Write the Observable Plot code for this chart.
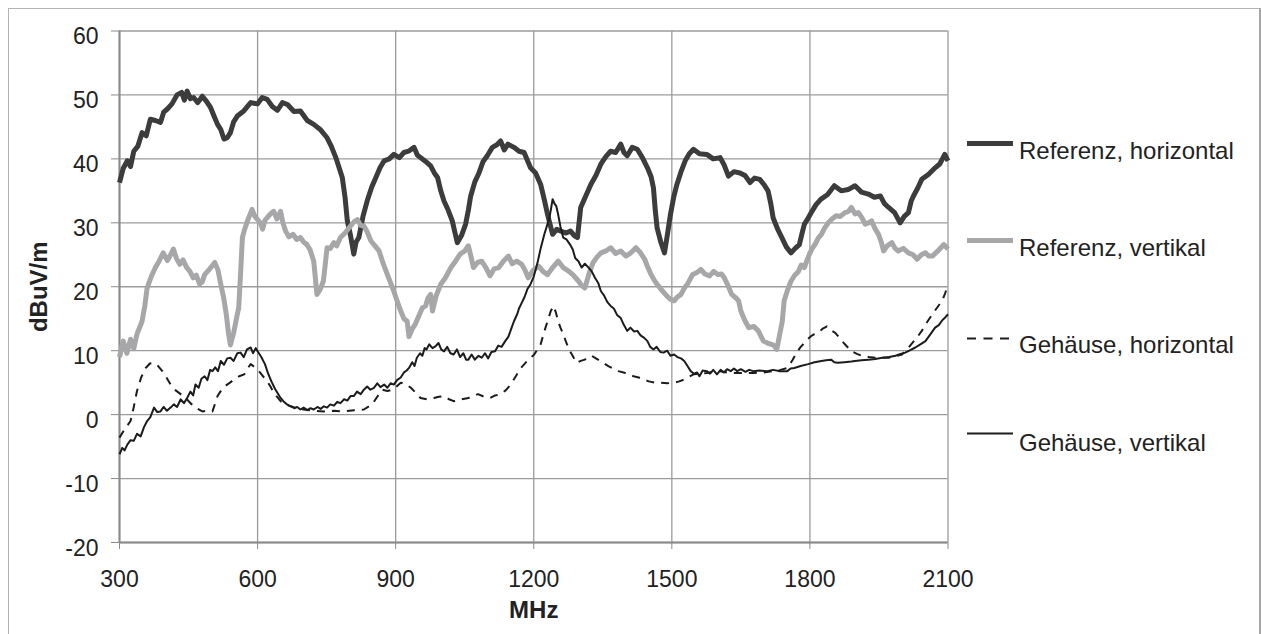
<!DOCTYPE html>
<html><head><meta charset="utf-8">
<script src="https://cdn.jsdelivr.net/npm/d3@7"></script>
<script src="https://cdn.jsdelivr.net/npm/@observablehq/plot@0.6"></script>
<style>
html,body{margin:0;padding:0;background:#fff;}
#wrap{position:relative;width:1261px;height:634px;overflow:hidden;font-family:"Liberation Sans",Arial,sans-serif;}
#frame{position:absolute;left:8px;top:8px;width:1250px;height:660px;border:1px solid #b4b4b4;border-right:2px solid #a6a6a6;pointer-events:none}
#wrap svg{position:absolute;left:0;top:0}
</style></head><body><div id="wrap"></div>
<script>
const xTicks = [300, 600, 900, 1200, 1500, 1800, 2100];
const yTicks = [-20, -10, 0, 10, 20, 30, 40, 50, 60];
const seriesNames = ["Referenz, horizontal", "Referenz, vertikal", "Gehäuse, horizontal", "Gehäuse, vertikal"];

const refHorizontal = [[300,36.3],[308,38.5],[317,39.7],[324,38.8],[331,41.2],[340,42.0],[349,44.1],[358,43.6],[367,46.2],[378,46.0],[389,45.7],[396,47.3],[404,47.8],[414,48.6],[425,50.0],[435,50.4],[441,49.2],[447,50.6],[454,49.4],[461,49.6],[470,48.8],[480,49.8],[489,49.0],[498,48.0],[506,46.6],[513,45.4],[520,44.6],[527,43.1],[534,43.3],[541,44.1],[548,45.8],[556,46.7],[570,47.5],[585,48.8],[600,48.6],[610,49.6],[621,49.3],[632,48.2],[643,47.6],[654,48.8],[665,48.5],[679,47.4],[693,47.5],[708,46.0],[722,45.4],[736,44.6],[751,43.3],[760,42.0],[770,40.2],[784,37.1],[790,34.0],[795,30.3],[802,28.0],[809,25.1],[814,27.0],[820,27.7],[829,31.0],[838,33.4],[848,35.6],[857,37.1],[866,38.6],[875,39.7],[886,40.0],[896,40.7],[908,40.2],[918,41.0],[928,41.2],[940,41.8],[947,40.6],[954,40.2],[965,39.6],[976,38.9],[984,37.8],[991,37.1],[998,35.0],[1005,33.4],[1014,32.0],[1023,30.3],[1029,28.4],[1034,26.9],[1043,28.0],[1052,29.8],[1058,32.0],[1063,34.2],[1072,36.4],[1081,37.8],[1090,39.6],[1099,40.5],[1110,41.8],[1120,42.2],[1128,42.8],[1136,41.4],[1144,42.3],[1157,41.8],[1168,41.2],[1179,41.0],[1193,38.6],[1204,37.8],[1215,36.0],[1223,33.6],[1230,31.3],[1241,28.2],[1250,29.0],[1259,28.7],[1270,28.4],[1280,28.7],[1288,28.0],[1295,27.7],[1302,32.4],[1313,34.2],[1324,36.0],[1335,37.4],[1346,39.2],[1357,40.4],[1367,41.2],[1378,41.0],[1389,42.3],[1396,41.0],[1403,40.5],[1414,41.8],[1425,41.5],[1436,40.2],[1447,38.6],[1455,37.2],[1460,35.5],[1464,32.0],[1468,29.2],[1476,27.0],[1484,25.3],[1490,28.0],[1497,31.3],[1504,34.0],[1511,36.0],[1520,38.0],[1529,39.7],[1538,40.8],[1547,41.5],[1560,40.8],[1576,40.7],[1590,40.0],[1605,40.2],[1614,39.0],[1623,37.3],[1635,38.0],[1648,37.8],[1659,37.4],[1670,36.3],[1680,37.0],[1691,36.8],[1700,36.0],[1709,35.0],[1715,33.0],[1720,30.8],[1730,29.0],[1739,27.7],[1749,26.2],[1759,25.3],[1768,26.0],[1777,26.6],[1783,28.4],[1788,29.8],[1795,30.6],[1803,31.6],[1813,32.8],[1824,33.7],[1838,34.4],[1853,35.8],[1868,35.0],[1883,35.2],[1898,35.8],[1912,34.8],[1927,34.5],[1940,34.0],[1953,34.2],[1962,33.0],[1971,32.4],[1984,31.6],[1996,30.0],[2005,31.0],[2014,31.6],[2020,33.4],[2025,34.2],[2034,35.4],[2043,36.8],[2058,37.6],[2072,38.6],[2082,39.2],[2093,40.7],[2100,39.7]];

const refVertical = [[300,9.0],[308,11.5],[316,9.6],[324,11.8],[331,10.3],[338,12.6],[349,14.6],[355,17.0],[360,19.8],[369,21.6],[378,23.0],[386,24.0],[395,25.3],[404,24.1],[411,25.0],[417,25.9],[424,24.4],[431,23.5],[438,24.2],[446,23.0],[453,22.4],[460,21.4],[467,21.8],[474,20.4],[480,20.8],[485,21.9],[496,22.8],[507,23.8],[514,22.6],[520,20.4],[526,18.4],[532,15.7],[537,12.6],[541,10.9],[548,12.8],[556,15.7],[559,16.7],[563,22.0],[567,27.7],[572,29.0],[578,30.3],[588,32.1],[594,31.0],[600,30.5],[606,30.0],[611,29.0],[616,30.4],[621,30.8],[628,31.4],[635,31.8],[642,30.6],[650,31.8],[655,30.0],[661,28.7],[668,27.8],[677,28.2],[685,27.4],[693,27.7],[700,27.0],[707,26.6],[714,25.8],[722,24.0],[726,21.0],[729,18.8],[736,19.6],[743,20.9],[751,26.1],[758,26.0],[766,26.9],[772,26.4],[780,27.7],[790,28.4],[802,29.5],[810,30.2],[817,30.5],[824,29.6],[831,29.5],[838,28.6],[846,27.2],[855,26.4],[864,25.6],[873,23.6],[882,21.9],[889,20.6],[896,19.3],[904,17.6],[911,16.2],[918,15.0],[925,14.6],[929,12.2],[936,13.4],[943,14.2],[950,15.4],[958,16.7],[965,17.0],[970,18.2],[976,18.8],[980,16.2],[988,18.6],[998,20.4],[1008,21.4],[1020,23.0],[1030,24.0],[1040,25.1],[1050,25.6],[1058,26.4],[1064,24.6],[1069,23.0],[1078,23.8],[1087,24.0],[1096,23.0],[1105,21.7],[1114,22.8],[1124,23.0],[1134,24.0],[1145,24.8],[1153,23.6],[1163,24.0],[1174,23.5],[1181,22.6],[1188,21.4],[1199,22.6],[1211,23.2],[1220,22.4],[1230,21.9],[1241,23.0],[1253,24.0],[1264,23.0],[1275,22.5],[1286,21.8],[1297,20.9],[1304,20.2],[1311,19.8],[1320,22.0],[1329,23.8],[1337,24.6],[1346,25.3],[1357,25.6],[1367,26.1],[1378,25.2],[1389,25.6],[1400,24.8],[1411,25.3],[1422,26.1],[1431,25.4],[1441,24.3],[1448,23.0],[1455,21.9],[1462,21.0],[1468,20.4],[1479,19.4],[1490,18.5],[1498,18.0],[1505,17.8],[1512,18.4],[1520,18.8],[1527,19.8],[1534,20.4],[1545,21.9],[1554,22.2],[1563,22.7],[1572,22.0],[1582,21.7],[1591,22.4],[1600,21.9],[1608,22.0],[1614,21.4],[1622,20.2],[1630,18.8],[1640,18.2],[1645,17.8],[1650,16.2],[1658,14.8],[1667,13.6],[1678,13.8],[1688,13.1],[1694,12.2],[1699,11.5],[1708,11.2],[1716,11.0],[1722,10.8],[1728,10.2],[1734,12.4],[1740,14.6],[1744,17.8],[1752,19.6],[1759,20.9],[1767,21.8],[1775,22.4],[1781,23.4],[1788,23.0],[1794,24.2],[1799,25.1],[1805,26.0],[1811,26.6],[1818,27.6],[1825,28.2],[1832,29.2],[1840,30.0],[1848,30.6],[1857,31.1],[1866,31.0],[1876,31.6],[1884,31.8],[1890,32.4],[1898,31.4],[1905,31.6],[1913,30.8],[1920,29.8],[1927,30.0],[1934,30.3],[1942,29.0],[1949,28.2],[1955,27.0],[1960,25.6],[1968,26.4],[1978,26.9],[1985,26.0],[1992,25.6],[2003,26.0],[2014,25.3],[2024,25.0],[2033,24.3],[2042,25.0],[2051,25.3],[2058,24.8],[2066,24.8],[2078,25.6],[2091,26.6],[2100,25.9]];

const gehHorizontal = [[300,-3.6],[312,-2.2],[324,-1.0],[331,1.2],[338,3.7],[347,5.8],[357,7.3],[366,8.0],[375,8.1],[384,7.6],[393,6.8],[402,5.8],[411,4.7],[422,3.8],[433,3.2],[444,2.6],[454,1.8],[467,1.0],[480,0.5],[491,0.6],[502,0.5],[508,1.8],[513,2.9],[521,3.8],[530,4.5],[540,5.0],[549,5.5],[560,6.0],[571,6.3],[578,7.2],[585,7.9],[594,7.4],[603,6.8],[612,6.0],[621,5.2],[628,4.4],[635,3.4],[642,2.8],[650,2.1],[661,1.6],[672,1.3],[686,1.0],[700,0.8],[722,0.6],[744,0.5],[766,0.6],[788,0.5],[810,0.7],[831,0.8],[840,1.2],[849,1.6],[860,2.8],[871,3.9],[882,3.7],[893,3.9],[902,4.4],[911,5.0],[922,4.8],[933,4.2],[944,3.4],[954,2.6],[968,2.4],[983,2.6],[994,2.8],[1005,2.9],[1016,2.4],[1026,2.1],[1042,2.4],[1058,2.6],[1068,2.9],[1079,3.2],[1092,2.8],[1105,2.6],[1116,3.0],[1128,3.2],[1139,3.8],[1150,4.7],[1161,6.0],[1172,7.3],[1186,8.4],[1201,9.4],[1208,10.2],[1215,11.0],[1222,12.8],[1230,14.6],[1237,16.2],[1243,17.0],[1248,16.0],[1253,14.6],[1258,13.6],[1264,12.6],[1271,11.2],[1279,9.9],[1286,9.0],[1293,8.1],[1302,8.4],[1311,8.6],[1318,9.0],[1326,9.2],[1335,8.8],[1344,8.4],[1353,8.0],[1362,7.6],[1373,7.2],[1384,6.8],[1395,6.6],[1406,6.3],[1417,6.0],[1428,5.8],[1439,5.5],[1450,5.2],[1463,5.0],[1476,5.0],[1490,4.9],[1505,5.0],[1516,5.2],[1527,5.5],[1537,5.9],[1547,6.3],[1561,6.4],[1576,6.5],[1590,6.7],[1605,6.8],[1620,6.6],[1634,6.5],[1656,6.5],[1677,6.5],[1700,6.6],[1721,6.8],[1736,7.0],[1751,7.3],[1762,8.5],[1773,9.9],[1780,10.6],[1788,11.2],[1795,11.8],[1803,12.3],[1810,12.6],[1818,12.8],[1827,13.4],[1837,13.8],[1846,13.2],[1855,12.8],[1862,12.2],[1870,11.5],[1880,10.7],[1891,9.9],[1902,9.5],[1913,9.2],[1928,9.0],[1942,8.9],[1957,8.9],[1971,8.9],[1986,9.1],[2000,9.4],[2010,10.1],[2020,11.0],[2032,12.0],[2043,13.1],[2054,14.4],[2066,15.7],[2077,16.8],[2087,17.8],[2094,19.0],[2100,20.4]];

const gehVertical = [[300,-6.2],[306,-5.2],[311,-5.6],[317,-4.7],[324,-4.0],[331,-4.1],[338,-3.0],[346,-3.4],[353,-2.0],[360,-1.0],[367,-0.4],[375,1.1],[382,0.4],[389,0.5],[396,1.2],[403,0.6],[411,1.1],[418,1.6],[425,1.2],[433,2.4],[440,1.8],[447,2.6],[454,3.6],[460,3.0],[465,4.7],[472,4.2],[478,5.6],[485,6.0],[491,5.4],[497,7.0],[502,6.8],[508,7.4],[514,6.8],[520,8.4],[527,7.8],[534,8.8],[541,8.9],[548,8.4],[556,9.6],[563,9.7],[570,9.0],[577,10.2],[585,10.5],[590,9.6],[596,10.4],[600,9.9],[608,9.0],[616,7.9],[623,6.4],[630,5.2],[638,4.0],[645,3.2],[650,2.6],[656,2.1],[664,1.6],[672,1.3],[680,1.0],[686,1.2],[693,0.8],[700,1.1],[708,0.7],[715,1.0],[722,0.8],[730,1.2],[737,0.9],[744,1.3],[751,1.1],[758,1.6],[766,1.4],[773,2.0],[780,1.8],[788,2.4],[795,2.2],[802,2.9],[809,2.9],[816,3.6],[824,3.2],[831,3.9],[838,4.4],[845,3.9],[853,4.2],[860,4.9],[867,4.3],[875,4.7],[882,4.2],[889,4.9],[896,4.7],[903,5.4],[911,5.8],[918,6.6],[924,6.9],[929,7.3],[936,8.2],[941,7.6],[946,8.9],[953,9.6],[958,9.2],[963,10.4],[967,10.2],[973,11.0],[980,10.4],[987,10.7],[993,11.2],[999,10.2],[1005,9.9],[1012,10.6],[1019,9.6],[1026,9.4],[1033,10.2],[1040,9.0],[1047,9.6],[1053,8.6],[1058,8.6],[1065,9.4],[1072,8.6],[1080,9.2],[1087,8.9],[1094,9.6],[1101,8.8],[1108,9.8],[1116,9.9],[1123,10.8],[1130,10.6],[1138,11.5],[1145,12.2],[1151,13.4],[1157,14.6],[1164,15.7],[1168,16.6],[1172,17.2],[1180,18.4],[1186,19.6],[1193,20.4],[1200,21.6],[1208,23.7],[1215,26.0],[1223,28.2],[1229,29.6],[1234,30.8],[1238,32.4],[1241,33.7],[1245,33.0],[1249,32.6],[1253,31.3],[1258,29.4],[1264,27.7],[1271,27.4],[1279,26.6],[1285,25.8],[1290,24.5],[1297,24.0],[1304,23.0],[1311,23.6],[1319,23.0],[1326,22.4],[1333,21.4],[1340,20.6],[1346,19.3],[1353,18.6],[1360,17.6],[1367,17.0],[1374,16.6],[1381,15.6],[1389,15.1],[1396,14.0],[1403,13.1],[1410,13.6],[1418,13.0],[1425,13.1],[1432,12.4],[1440,12.0],[1447,11.5],[1453,10.6],[1460,10.2],[1467,10.6],[1475,9.8],[1482,9.7],[1490,10.0],[1497,9.2],[1505,9.4],[1512,9.0],[1520,8.8],[1527,8.4],[1534,7.6],[1541,6.8],[1548,6.4],[1555,6.6],[1560,6.0],[1567,6.9],[1576,6.8],[1583,6.4],[1590,7.0],[1598,6.3],[1606,7.0],[1613,6.6],[1620,7.1],[1628,6.8],[1635,7.2],[1642,6.8],[1650,7.1],[1660,6.7],[1668,7.0],[1677,6.8],[1690,6.9],[1707,6.8],[1720,7.0],[1735,6.8],[1751,6.8],[1758,7.2],[1766,7.3],[1780,7.6],[1796,7.9],[1810,8.2],[1825,8.4],[1835,8.5],[1846,8.6],[1853,8.2],[1861,8.1],[1875,8.2],[1890,8.3],[1898,8.4],[1912,8.5],[1927,8.6],[1942,8.7],[1957,8.9],[1972,9.0],[1986,9.2],[1997,9.5],[2007,9.7],[2018,10.1],[2029,10.5],[2040,11.0],[2051,11.5],[2062,12.6],[2072,13.6],[2080,14.0],[2088,14.8],[2094,15.2],[2100,15.7]];

const seriesData = [refHorizontal, refVertical, gehHorizontal, gehVertical];
const seriesStyle = [
  {stroke: "#3c3c3c", width: 5, dash: null},
  {stroke: "#a7a7a9", width: 5, dash: null},
  {stroke: "#1c1c1c", width: 2, dash: "8,7"},
  {stroke: "#1c1c1c", width: 2, dash: null}
];

const FONT = "'Liberation Sans', Arial, sans-serif";

const chart = Plot.plot({
  width: 1261, height: 634,
  marginLeft: 119, marginRight: 313.5, marginTop: 30.5, marginBottom: 92,
  x: {domain: [300, 2100]},
  y: {domain: [-20, 60]},
  style: {fontFamily: FONT, background: "transparent", overflow: "visible"},
  marks: [
    Plot.gridX(xTicks, {stroke: "#9b9b9b", strokeOpacity: 1, strokeWidth: 1.3}),
    Plot.gridY(yTicks, {stroke: "#9b9b9b", strokeOpacity: 1, strokeWidth: 1.3}),
    Plot.ruleX([300], {stroke: "#8a8a8a", strokeWidth: 2}),
    Plot.ruleY([-20], {stroke: "#8a8a8a", strokeWidth: 2}),
    Plot.axisX(xTicks, {tickSize: 7, tickPadding: 21, fontSize: 23, stroke: "#8a8a8a", fill: "#222", label: null, tickFormat: d => String(d)}),
    Plot.axisY(yTicks, {tickSize: 8, stroke: "#8a8a8a", label: null, tickFormat: () => ""}),
    Plot.axisY(yTicks, {tickSize: 0, tickPadding: 21, dy: 6, fontSize: 23, fill: "#222", label: null, tickFormat: d => String(d)}),
    ...seriesData.map((data, i) => Plot.line(data, {
      x: d => d[0], y: d => d[1],
      stroke: seriesStyle[i].stroke, strokeWidth: seriesStyle[i].width,
      strokeDasharray: seriesStyle[i].dash, strokeLinejoin: "round", strokeLinecap: "butt"
    })),
    Plot.text(["dBuV/m"], {text: d => d, frameAnchor: "left", dx: -80, rotate: -90, textAnchor: "middle", lineAnchor: "middle", fontSize: 24, fontWeight: "bold", fill: "#222"}),
    Plot.text(["MHz"], {text: d => d, frameAnchor: "bottom", dy: 68, textAnchor: "middle", lineAnchor: "middle", fontSize: 24, fontWeight: "bold", fill: "#222"})
  ]
});

const wrap = document.getElementById("wrap");
wrap.appendChild(chart);

// legend
const legendLineY = [143.5, 240.5, 338.5, 433.5];
const legendTextY = [158.5, 255.5, 353, 450.5];
const svg = d3.select(chart);
const lg = svg.append("g").attr("font-family", FONT).attr("font-size", 24).attr("fill", "#222").attr("text-anchor", "start");
seriesNames.forEach((name, i) => {
  lg.append("line").attr("x1", 967).attr("x2", 1013).attr("y1", legendLineY[i]).attr("y2", legendLineY[i])
    .attr("stroke", seriesStyle[i].stroke).attr("stroke-width", seriesStyle[i].width)
    .attr("stroke-dasharray", seriesStyle[i].dash ? "9,7.5" : null);
  lg.append("text").attr("x", 1019).attr("y", legendTextY[i]).attr("text-anchor", "start").text(name);
});

const frame = document.createElement("div");
frame.id = "frame";
wrap.appendChild(frame);
</script></body></html>
